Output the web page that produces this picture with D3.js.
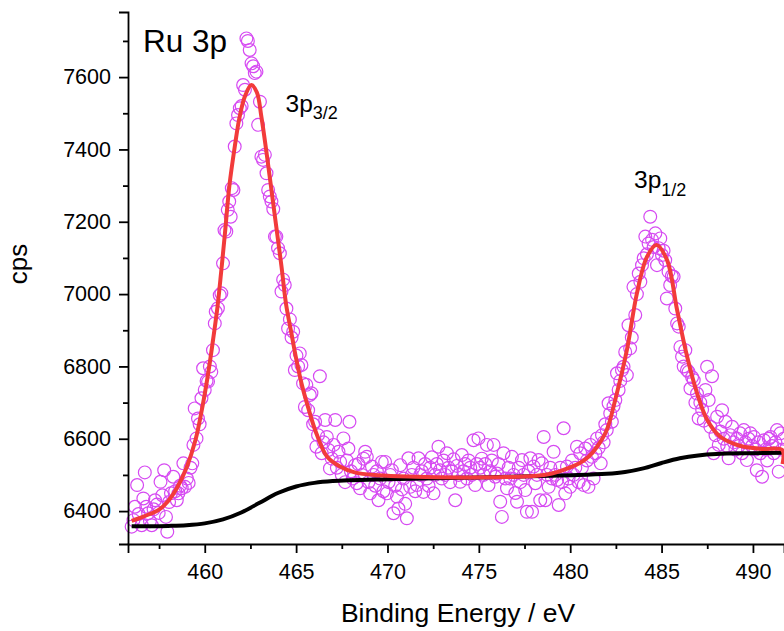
<!DOCTYPE html>
<html>
<head>
<meta charset="utf-8">
<script src="https://cdn.jsdelivr.net/npm/d3@7"></script>
<style>
  html, body { margin: 0; padding: 0; background: #fff; }
  svg { display: block; font-family: "Liberation Sans", Arial, sans-serif; }
</style>
</head>
<body>
<svg id="chart" width="784" height="631"></svg>
<script>
// Ru 3p XPS spectrum: measured counts, fitted envelope and background

// measured points [binding energy eV, cps]
const measured = [
  [456.0,6357],[456.1,6375],[456.18,6412],[456.3,6472],[456.38,6392],[456.55,6361],[456.64,6435],[456.72,6507],
  [456.8,6412],[456.9,6394],[457.0,6372],[457.1,6361],[457.2,6405],[457.28,6430],[457.38,6418],[457.48,6395],
  [457.58,6481],[457.68,6444],[457.78,6513],[457.88,6384],[457.95,6343],[458.05,6425],[458.15,6449],[458.28,6495],
  [458.38,6455],[458.47,6430],[458.56,6449],[458.65,6470],[458.74,6463],[458.83,6532],[458.92,6467],[459.02,6490],
  [459.12,6478],[459.22,6520],[459.32,6532],[459.38,6583],[459.45,6684],[459.55,6601],[459.63,6656],[459.72,6640],
  [459.82,6712],[459.91,6795],[460.0,6735],[460.1,6760],[460.18,6758],[460.28,6800],[460.36,6785],[460.45,6845],
  [460.55,6919],[460.6,6951],[460.72,6961],[460.82,6997],[460.91,7002],[461.0,7085],[461.08,7177],[461.18,7173],
  [461.26,7233],[461.34,7256],[461.42,7214],[461.48,7293],[461.57,7288],[461.64,7408],[461.73,7472],[461.82,7495],
  [461.92,7514],[462.02,7520],[462.1,7578],[462.2,7565],[462.28,7707],[462.36,7700],[462.46,7675],[462.56,7638],
  [462.65,7630],[462.74,7611],[462.83,7615],[462.92,7468],[463.02,7532],[463.1,7380],[463.19,7371],[463.29,7385],
  [463.38,7334],[463.47,7288],[463.56,7270],[463.65,7256],[463.75,7235],[463.84,7159],[463.92,7159],[464.01,7127],
  [464.11,7113],[464.2,7007],[464.29,7040],[464.38,7025],[464.47,6960],[464.56,6905],[464.66,6930],[464.75,6880],
  [464.84,6896],[464.93,6790],[465.02,6830],[465.11,6800],[465.2,6836],[465.29,6804],[465.38,6753],[465.48,6688],
  [465.56,6749],[465.66,6679],[465.75,6721],[465.84,6726],[465.93,6640],[466.04,6647],[466.11,6578],[466.2,6610],
  [466.3,6773],[466.4,6560],[466.5,6590],[466.59,6652],[466.68,6605],[466.77,6569],[466.85,6518],[466.95,6545],
  [467.05,6583],[467.14,6652],[467.23,6520],[467.32,6564],[467.41,6536],[467.5,6500],[467.59,6601],[467.68,6480],
  [467.77,6540],[467.86,6573],[467.92,6647],[468.0,6510],[468.1,6490],[468.23,6527],[468.32,6477],[468.41,6530],
  [468.5,6463],[468.6,6500],[468.69,6545],[468.78,6564],[468.87,6550],[468.96,6480],[469.05,6449],[469.15,6523],
  [469.24,6500],[469.33,6470],[469.42,6510],[469.51,6430],[469.6,6490],[469.69,6536],[469.78,6455],[469.87,6536],
  [469.97,6449],[470.06,6480],[470.15,6500],[470.24,6513],[470.33,6394],[470.42,6470],[470.52,6440],[470.6,6407],
  [470.7,6527],[470.79,6460],[470.88,6490],[470.97,6420],[471.06,6380],[471.15,6546],[471.24,6467],[471.33,6500],
  [471.42,6520],[471.52,6455],[471.61,6472],[471.7,6546],[471.79,6500],[471.88,6510],[471.97,6453],[472.06,6530],
  [472.15,6490],[472.25,6470],[472.34,6520],[472.43,6549],[472.52,6449],[472.61,6500],[472.7,6530],[472.79,6578],
  [472.88,6513],[472.97,6490],[473.07,6540],[473.16,6500],[473.25,6560],[473.34,6520],[473.43,6480],[473.52,6510],
  [473.62,6543],[473.71,6430],[473.8,6525],[473.89,6500],[473.98,6481],[474.07,6555],[474.16,6510],[474.25,6530],
  [474.35,6490],[474.44,6540],[474.53,6520],[474.62,6500],[474.71,6596],[474.8,6472],[474.89,6530],[474.98,6601],
  [475.07,6520],[475.16,6545],[475.26,6500],[475.35,6530],[475.44,6583],[475.53,6472],[475.62,6510],[475.71,6540],
  [475.81,6583],[475.9,6495],[475.99,6504],[476.08,6530],[476.17,6426],[476.26,6384],[476.35,6560],[476.45,6490],
  [476.54,6463],[476.63,6520],[476.72,6490],[476.81,6550],[476.9,6500],[477.0,6450],[477.09,6426],[477.18,6520],
  [477.27,6480],[477.36,6541],[477.45,6500],[477.54,6458],[477.63,6398],[477.72,6510],[477.82,6546],[477.91,6398],
  [478.0,6523],[478.09,6477],[478.18,6500],[478.27,6541],[478.36,6430],[478.45,6532],[478.55,6605],[478.64,6430],
  [478.73,6500],[478.82,6467],[478.91,6520],[479.0,6490],[479.09,6564],[479.18,6500],[479.28,6486],[479.37,6417],
  [479.46,6520],[479.55,6480],[479.64,6629],[479.73,6449],[479.82,6523],[479.91,6490],[480.0,6467],[480.1,6540],
  [480.19,6500],[480.28,6520],[480.37,6578],[480.46,6480],[480.55,6560],[480.64,6520],[480.74,6472],[480.83,6573],
  [480.92,6540],[481.0,6467],[481.1,6583],[481.19,6550],[481.28,6490],[481.38,6560],[481.47,6601],[481.56,6575],
  [481.67,6532],[481.74,6610],[481.83,6590],[481.92,6640],[482.0,6624],[482.1,6698],[482.19,6670],[482.28,6647],
  [482.37,6690],[482.47,6707],[482.56,6781],[482.65,6735],[482.74,6760],[482.83,6790],[482.92,6799],[483.01,6840],
  [483.1,6776],[483.19,6914],[483.28,6850],[483.37,6880],[483.46,7020],[483.56,6942],[483.65,7000],[483.75,7057],
  [483.84,7034],[483.93,7080],[484.02,7099],[484.11,7159],[484.2,7110],[484.29,7140],[484.38,7214],[484.48,7150],
  [484.57,7130],[484.66,7168],[484.75,7080],[484.84,7127],[484.93,7154],[485.02,7108],[485.11,7120],[485.2,7094],
  [485.29,6988],[485.38,7062],[485.47,7025],[485.56,7050],[485.66,7048],[485.75,6960],[485.85,6919],[485.94,6910],
  [486.03,6854],[486.12,6827],[486.21,6800],[486.3,6845],[486.39,6790],[486.48,6785],[486.58,6739],[486.67,6770],
  [486.76,6762],[486.85,6700],[486.94,6725],[487.03,6656],[487.12,6700],[487.22,6680],[487.31,6650],[487.4,6735],
  [487.49,6799],[487.58,6707],[487.67,6633],[487.76,6773],[487.85,6560],[487.95,6610],[488.04,6661],[488.13,6583],
  [488.22,6620],[488.31,6679],[488.4,6600],[488.5,6647],[488.59,6580],[488.67,6546],[488.76,6610],[488.86,6633],
  [488.95,6590],[489.04,6570],[489.13,6600],[489.22,6580],[489.3,6615],[489.4,6560],[489.5,6624],[489.58,6590],
  [489.67,6541],[489.76,6600],[489.86,6615],[489.95,6580],[490.05,6605],[490.14,6570],[490.21,6513],[490.3,6590],
  [490.4,6560],[490.5,6495],[490.6,6596],[490.7,6570],[490.78,6540],[490.87,6600],[490.96,6605],[491.05,6580],
  [491.14,6560],[491.23,6590],[491.32,6624],[491.41,6509],[491.5,6615],[491.59,6570],[491.68,6600]
];

// fitted envelope (red)
const envelope = [
  [456.0,6373],[456.5,6382],[457.0,6392],[457.5,6404],[458.0,6428],[458.5,6466],[459.0,6520],[459.5,6598],
  [459.9,6696],[460.2,6785],[460.45,6872],[460.7,6966],[460.9,7062],[461.1,7165],[461.35,7300],[461.65,7410],
  [461.9,7488],[462.2,7547],[462.55,7578],[462.85,7558],[463.1,7490],[463.4,7384],[463.65,7288],[463.9,7192],
  [464.2,7076],[464.45,6972],[464.75,6890],[465.0,6822],[465.3,6752],[465.65,6688],[466.1,6616],[466.7,6550],
  [467.4,6523],[468.2,6507],[469.5,6499],[471.5,6495],[474.0,6493],[476.5,6494],[478.0,6497],[479.0,6504],
  [479.6,6513],[480.5,6532],[481.0,6550],[481.5,6580],[482.0,6624],[482.5,6715],[483.1,6845],[483.65,7002],
  [484.2,7103],[484.72,7136],[485.3,7094],[485.85,6956],[486.4,6827],[486.95,6725],[487.5,6652],[488.2,6606],
  [489.0,6585],[489.5,6578],[490.5,6572],[491.6,6569],[491.62,6530]
];

// background (black)
const background = [
  [456.0,6358],[457.0,6358],[458.0,6359],[459.0,6361],[460.0,6366],[461.0,6377],[462.0,6396],[463.0,6423],
  [464.0,6450],[465.0,6468],[466.0,6478],[467.0,6483],[470.0,6488],[475.0,6493],[480.0,6499],[482.0,6503],
  [483.0,6508],[484.0,6518],[485.0,6533],[486.0,6546],[487.0,6554],[488.0,6558],[490.0,6560],[491.62,6561]
];

const xTicks = [460, 465, 470, 475, 480, 485, 490];
const xMinor = [457.5, 462.5, 467.5, 472.5, 477.5, 482.5, 487.5];
const yTicks = [6400, 6600, 6800, 7000, 7200, 7400, 7600];
const yMinor = [6500, 6700, 6900, 7100, 7300, 7500, 7700];

const svg = d3.select('#chart');
const margin = { top: 12, right: 0, bottom: 87, left: 128 };
const width = 784 - margin.left - margin.right;
const height = 631 - margin.top - margin.bottom;

const x = d3.scaleLinear().domain([455.8, 491.7]).range([0, width]);
const y = d3.scaleLinear().domain([6309, 7780]).range([height, 0]);

const g = svg.append('g')
    .attr('transform', `translate(${margin.left},${margin.top})`);

// Scatter
g.append('g')
    .selectAll('circle')
    .data(measured)
    .enter()
    .append('circle')
    .attr('cx', d => x(d[0]))
    .attr('cy', d => y(d[1]))
    .attr('r', 6.4)
    .style('fill', 'none')
    .style('stroke', '#d64af2')
    .style('stroke-width', 1.2);

const line = d3.line()
    .x(d => x(d[0]))
    .y(d => y(d[1]))
    .curve(d3.curveCatmullRom.alpha(0.5));

g.append('path')
    .datum(background)
    .attr('d', line)
    .style('fill', 'none')
    .style('stroke', '#000')
    .style('stroke-width', 4);

g.append('path')
    .datum(envelope)
    .attr('d', line)
    .style('fill', 'none')
    .style('stroke', '#f23b3b')
    .style('stroke-width', 4);

// Axes
const fontSize = '21.5px';

g.append('g')
    .attr('transform', `translate(0,${height})`)
    .call(d3.axisBottom(x).tickValues(xTicks).tickSize(9).tickPadding(11).tickFormat(d3.format('d')));
g.append('g')
    .attr('transform', `translate(0,${height})`)
    .call(d3.axisBottom(x).tickValues(xMinor).tickSize(5).tickFormat(''))
    .select('.domain').remove();

g.append('g')
    .call(d3.axisLeft(y).tickValues(yTicks).tickSize(9).tickPadding(8).tickFormat(d3.format('d')));
g.append('g')
    .call(d3.axisLeft(y).tickValues(yMinor).tickSize(5).tickFormat(''))
    .select('.domain').remove();

g.selectAll('.domain, .tick line')
    .style('stroke', '#000')
    .style('stroke-width', 1.8);
g.selectAll('.tick text')
    .style('font-family', '"Liberation Sans", Arial, sans-serif')
    .style('font-size', fontSize)
    .style('fill', '#000');

// Axis titles
svg.append('text')
    .attr('x', 458)
    .attr('y', 622)
    .attr('text-anchor', 'middle')
    .style('font-size', '26.5px')
    .text('Binding Energy / eV');

svg.append('text')
    .attr('transform', 'translate(27,264) rotate(-90)')
    .attr('text-anchor', 'middle')
    .style('font-size', '26px')
    .text('cps');

// Annotations
svg.append('text')
    .attr('x', 143)
    .attr('y', 52)
    .style('font-size', '31.5px')
    .text('Ru 3p');

function peakLabel(px, py, sub) {
    const t = svg.append('text')
        .attr('x', px)
        .attr('y', py)
        .style('font-size', '24.5px');
    t.append('tspan').text('3p');
    t.append('tspan')
        .attr('dy', 7.5)
        .style('font-size', '18px')
        .text(sub);
}
peakLabel(285.5, 111.7, '3/2');
peakLabel(634, 188.3, '1/2');
</script>
</body>
</html>
